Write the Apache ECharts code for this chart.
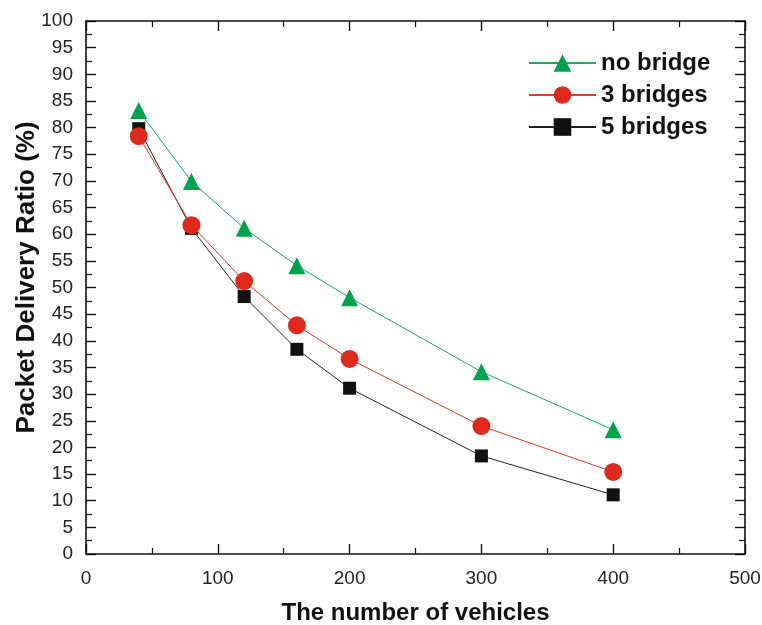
<!DOCTYPE html>
<html>
<head>
<meta charset="utf-8">
<script src="https://cdn.jsdelivr.net/npm/echarts@6/dist/echarts.min.js"></script>
<style>
html,body{margin:0;padding:0;background:#fff;}
#chart{width:762px;height:625px;}
</style>
</head>
<body>
<div id="chart"></div>
<script>
var vehicles = [40, 80, 120, 160, 200, 300, 400];
var noBridge = [83.2, 69.9, 61.1, 54.1, 48.1, 34.2, 23.3];
var threeBridges = [78.4, 61.7, 51.2, 42.9, 36.6, 24.0, 15.4];
var fiveBridges = [79.8, 61.1, 48.3, 38.4, 31.1, 18.4, 11.1];
var seriesNames = ['no bridge', '3 bridges', '5 bridges'];

function pairs(ys){ return vehicles.map(function(x,i){ return [x, ys[i]]; }); }

var font = 'Liberation Sans, Arial, Helvetica, sans-serif';
function tickCommon(){
  return {
    axisLine: {show: true, onZero: false, lineStyle: {color: '#111', width: 1.6}},
    axisTick: {show: true, inside: true, length: 10, lineStyle: {color: '#111', width: 1.4}},
    minorTick: {show: true, splitNumber: 2, length: 6, lineStyle: {color: '#111', width: 1.2}},
    splitLine: {show: false},
    minorSplitLine: {show: false}
  };
}

var chart = echarts.init(document.getElementById('chart'));
chart.setOption({
  backgroundColor: '#fff',
  animation: false,
  grid: {left: 86, right: 17, top: 21, bottom: 71, containLabel: false, outerBoundsMode: 'none'},
  legend: {
    left: 528, top: 51, orient: 'vertical', padding: 0,
    itemWidth: 67, itemHeight: 22, itemGap: 8,
    textStyle: {fontFamily: font, fontSize: 24, fontWeight: 'bold', color: '#111'},
    data: seriesNames
  },
  xAxis: [
    Object.assign(tickCommon(), {
      type: 'value', position: 'bottom', min: 0, max: 500, interval: 100,
      name: 'The number of vehicles', nameLocation: 'middle', nameGap: 47, nameMoveOverlap: false,
      nameTextStyle: {fontFamily: font, fontSize: 24, fontWeight: 'bold', color: '#111'},
      axisLabel: {fontFamily: font, fontSize: 19, color: '#222', margin: 15}
    }),
    Object.assign(tickCommon(), {
      type: 'value', position: 'top', min: 0, max: 500, interval: 100,
      axisLabel: {show: false}
    })
  ],
  yAxis: [
    Object.assign(tickCommon(), {
      type: 'value', position: 'left', min: 0, max: 100, interval: 5,
      name: 'Packet Delivery Ratio (%)', nameLocation: 'middle', nameGap: 46, nameMoveOverlap: false,
      nameTextStyle: {fontFamily: font, fontSize: 26, fontWeight: 'bold', color: '#111', padding: [0, 0, 0, 20]},
      axisLabel: {fontFamily: font, fontSize: 19, color: '#222', margin: 13}
    }),
    Object.assign(tickCommon(), {
      type: 'value', position: 'right', min: 0, max: 100, interval: 5,
      axisLabel: {show: false}
    })
  ],
  series: [
    {
      name: seriesNames[0], type: 'line', xAxisIndex: 0, yAxisIndex: 0,
      data: pairs(noBridge), symbol: 'triangle', symbolSize: 17,
      itemStyle: {color: '#00a04f'}, lineStyle: {color: '#1aab5f', width: 1}
    },
    {
      name: seriesNames[1], type: 'line', xAxisIndex: 0, yAxisIndex: 0,
      data: pairs(threeBridges), symbol: 'circle', symbolSize: 18,
      itemStyle: {color: '#dd2a1c'}, lineStyle: {color: '#e0382b', width: 1}
    },
    {
      name: seriesNames[2], type: 'line', xAxisIndex: 0, yAxisIndex: 0,
      data: pairs(fiveBridges), symbol: 'rect', symbolSize: 13,
      itemStyle: {color: '#111'}, lineStyle: {color: '#222', width: 1}, z: 1
    }
  ]
});
</script>
</body>
</html>
